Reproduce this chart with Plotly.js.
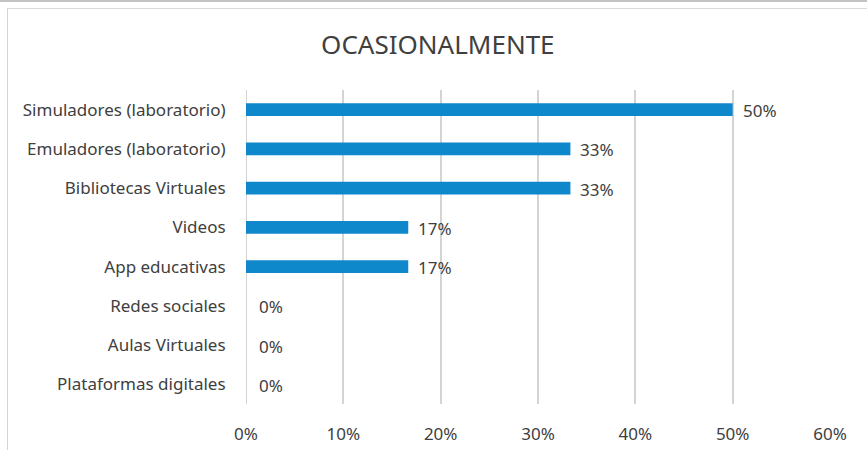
<!DOCTYPE html>
<html>
<head>
<meta charset="utf-8">
<script src="https://cdn.plot.ly/plotly-3.0.1.min.js"></script>
<style>
  html, body { margin: 0; padding: 0; background: #ffffff; }
  #wrap { position: relative; width: 867px; height: 450px; overflow: hidden; }
  #chart { position: absolute; left: 0; top: 0; width: 867px; height: 450px; }
  #topline { position: absolute; left: 0; top: 0; width: 867px; height: 0; border-top: 2px solid #c4c4c4; z-index: 2; }
  #box { position: absolute; left: 7px; top: 8px; width: 900px; height: 500px; border-left: 1.5px solid #d4d4d4; border-top: 1.5px solid #d9d9d9; z-index: 2; pointer-events: none; }
</style>
</head>
<body>
<div id="wrap">
  <div id="chart"></div>
  <div id="topline"></div>
  <div id="box"></div>
</div>
<script>
const categories = [
  "Simuladores (laboratorio)",
  "Emuladores (laboratorio)",
  "Bibliotecas Virtuales",
  "Videos",
  "App educativas",
  "Redes sociales",
  "Aulas Virtuales",
  "Plataformas digitales"
];
const values = [0.5, 0.3333, 0.3333, 0.1667, 0.1667, 0, 0, 0];
const tickValues = [0, 0.1, 0.2, 0.3, 0.4, 0.5, 0.6];
const chartTitle = "OCASIONALMENTE";

const font = "Noto Sans, Open Sans, sans-serif";
const textColor = "#404040";

const trace = {
  type: "bar",
  orientation: "h",
  x: values,
  y: categories,
  width: 0.33,
  marker: { color: "#0f87cb" },
  hoverinfo: "none"
};

const annotations = values.map((v, i) => ({
  x: v,
  y: categories[i],
  xref: "x",
  yref: "y",
  text: Math.round(v * 100) + "%",
  showarrow: false,
  xanchor: "left",
  yanchor: "middle",
  xshift: v === 0 ? 11 : 8,
  yshift: -1,
  font: { family: font, size: 17, color: textColor }
}));

const layout = {
  width: 867,
  height: 450,
  margin: { l: 246, r: 37, t: 90, b: 46 },
  paper_bgcolor: "#ffffff",
  plot_bgcolor: "#ffffff",
  showlegend: false,
  title: {
    text: chartTitle,
    xref: "container",
    x: 0.505,
    xanchor: "center",
    yref: "container",
    y: 0.9,
    yanchor: "middle",
    font: { family: font, size: 26, color: textColor }
  },
  xaxis: {
    range: [0, 0.6],
    tickvals: tickValues,
    tickformat: ".0%",
    showgrid: true,
    gridcolor: "#d4d4d4",
    gridwidth: 2,
    zeroline: false,
    showline: false,
    ticks: "outside",
    ticklen: 15,
    tickcolor: "rgba(0,0,0,0)",
    tickfont: { family: font, size: 17, color: textColor },
    fixedrange: true
  },
  yaxis: {
    type: "category",
    autorange: "reversed",
    showgrid: false,
    zeroline: false,
    showline: false,
    ticks: "outside",
    ticklen: 16,
    tickcolor: "rgba(0,0,0,0)",
    tickfont: { family: font, size: 17, color: textColor },
    fixedrange: true
  },
  shapes: [{
    type: "line",
    xref: "x",
    yref: "paper",
    x0: 0, x1: 0, y0: 0, y1: 1,
    line: { color: "#d4d4d4", width: 2 },
    layer: "below"
  }],
  annotations: annotations
};

Plotly.newPlot("chart", [trace], layout, { displayModeBar: false, staticPlot: true });
</script>
</body>
</html>
